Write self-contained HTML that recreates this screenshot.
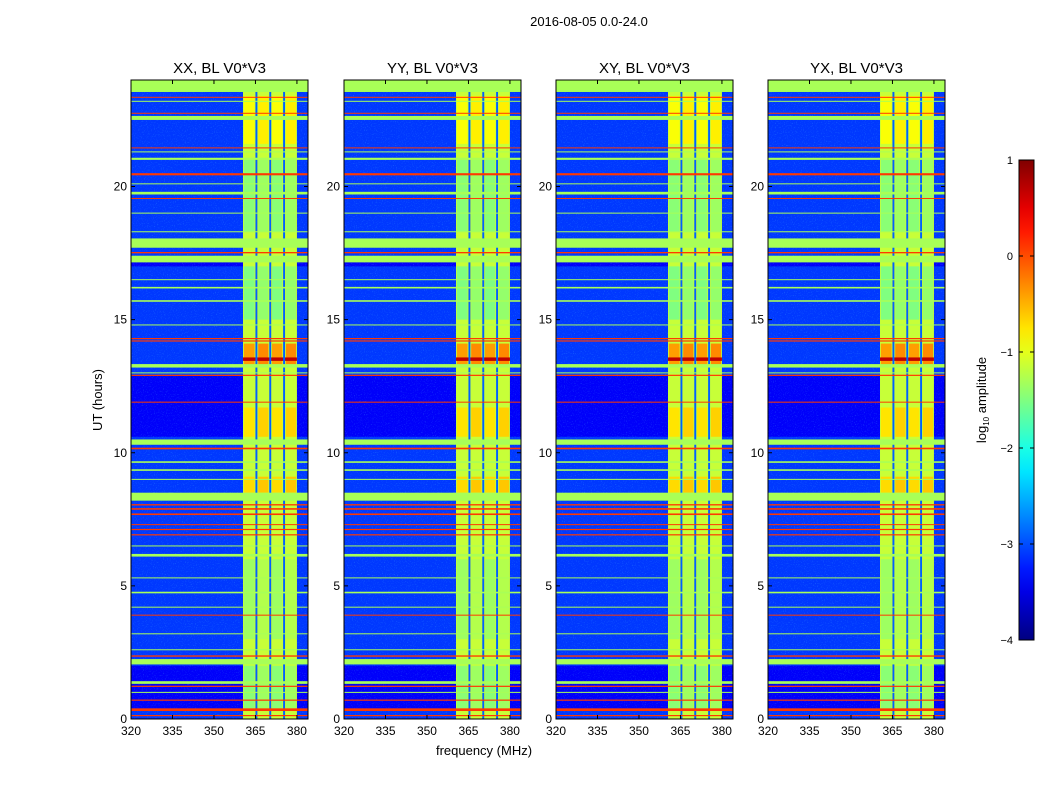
<!DOCTYPE html>
<html><head><meta charset="utf-8"><style>
body{margin:0;background:#fff;}
svg{display:block;font-family:"Liberation Sans",sans-serif;}
</style></head><body>
<svg id="fig" width="1050" height="800" viewBox="0 0 1050 800" xmlns="http://www.w3.org/2000/svg">
<defs>
<filter id="noise" x="0" y="0" width="1" height="1">
<feTurbulence type="fractalNoise" baseFrequency="0.9" numOctaves="1" seed="3" result="n"/>
<feColorMatrix in="n" type="matrix" values="0 0 0 0 0.1  0 0 0 0 0.7  0 0 0 0 1  0 0 0 2.2 -1.25"/>
<feComposite in2="SourceGraphic" operator="in"/>
</filter>
</defs>
<text x="589" y="26" font-size="13" text-anchor="middle">2016-08-05 0.0-24.0</text>
<text transform="translate(102,400) rotate(-90)" font-size="13" text-anchor="middle">UT (hours)</text>
<text x="484" y="755" font-size="13" text-anchor="middle">frequency (MHz)</text>
<g id="panels"></g>
<g id="cbar"></g>
</svg>
<script>
// ---- data (log10 amplitude values, hours, MHz) ----
const panelTitles = ["XX, BL V0*V3","YY, BL V0*V3","XY, BL V0*V3","YX, BL V0*V3"];
const xTicks = [320,335,350,365,380];
const yTicks = [0,5,10,15,20];
const cbarTicks = [1,0,-1,-2,-3,-4];
const backgroundLevel = -3.1;
const quietLevel = -3.4;
const quietSpans = [[10.6,12.9],[0.4,2.0],[17.0,17.2]];
const rfiBand = [360.5,380];
const rfiLevel = -1.15;
const bandGaps = [365.0,370.0,375.0];
const bandPatches = [[21.6,23.4,-0.9],[13.3,14.1,-0.4],[10.6,11.7,-0.75],[8.5,9.1,-0.7],[15.0,17.0,-1.5],[3.0,6.0,-1.35],[0.4,2.0,-1.45],[18.3,21.0,-1.45]];
const darkRows = [[13.45,13.58,0.7]];
const flagRows = [[23.55,24.0],[22.5,22.65],[21.0,21.08],[19.7,19.8],[17.7,18.05],[17.15,17.4],[16.17,16.23],[15.67,15.73],[13.2,13.33],[10.3,10.5],[9.62,9.68],[9.32,9.38],[8.2,8.5],[6.1,6.2],[4.72,4.78],[2.05,2.25],[1.32,1.42]];
const redRows = [[20.42,20.5],[17.49,17.54],[14.18,14.22],[14.27,14.31],[12.89,12.93],[10.13,10.19],[7.66,7.72],[7.86,7.92],[8.02,8.07],[7.1,7.14],[6.9,6.94],[2.34,2.39],[1.21,1.25],[0.69,0.73],[0.3,0.4],[0.11,0.15]];
const thinGreen = [23.2,21.3,20.1,19.0,18.3,16.5,14.8,13.0,9.0,6.5,5.3,4.2,3.2,2.6,1.0];
const thinRed = [23.35,22.75,21.45,19.55,11.9,7.3,3.9];

// ---- layout ----
const panelX = [131,344,556,768];
const PW = 177, PT = 80, PB = 719;
const X0 = 320, X1 = 384, Y0 = 0, Y1 = 24;
const NS = "http://www.w3.org/2000/svg";
function jet(v){
  let t = (v+4)/5; t = Math.max(0,Math.min(1,t));
  const f=(x)=>Math.max(0,Math.min(1,1.5-Math.abs(4*t-x)));
  return `rgb(${Math.round(f(3)*255)},${Math.round(f(2)*255)},${Math.round(f(1)*255)})`;
}
function mk(tag,attrs,parent){const e=document.createElementNS(NS,tag);for(const k in attrs)e.setAttribute(k,attrs[k]);parent.appendChild(e);return e;}
const root = document.getElementById('panels');
panelX.forEach((px,pi)=>{
  const sx = f=>px+(f-X0)/(X1-X0)*PW;
  const sy = h=>PB-(h-Y0)/(Y1-Y0)*(PB-PT);
  const g = mk('g',{},root);
  
  
  const bg = mk('rect',{x:px,y:PT,width:PW,height:PB-PT,fill:jet(backgroundLevel)},g);
  
  
  quietSpans.forEach(s=>{const r=mk('rect',{x:px,y:sy(s[1]),width:PW,height:sy(s[0])-sy(s[1]),fill:jet(quietLevel)},g);
    
    });
  const nz = mk('rect',{x:px,y:PT,width:PW,height:PB-PT,fill:'#000',filter:'url(#noise)',opacity:0.45},g);
  
  
  const bx0=sx(rfiBand[0]), bx1=sx(rfiBand[1]);
  const band = mk('rect',{x:bx0,y:PT,width:bx1-bx0,height:PB-PT,fill:jet(rfiLevel)},g);
  
  
  bandPatches.forEach(p=>{
    const segs=[[rfiBand[0],bandGaps[0]],[bandGaps[0]+0.7,bandGaps[1]],[bandGaps[1]+0.7,bandGaps[2]],[bandGaps[2]+0.7,rfiBand[1]]];
    segs.forEach((s,si)=>{const r=mk('rect',{x:sx(s[0])+0.8,y:sy(p[1]),width:Math.max(0,sx(s[1])-sx(s[0])-1.6),height:sy(p[0])-sy(p[1]),fill:jet(p[2]+(si%2?0.1:0))},g);
      
      });
  });
  darkRows.forEach(d=>{const r=mk('rect',{x:bx0,y:sy(d[1]),width:bx1-bx0,height:sy(d[0])-sy(d[1]),fill:jet(d[2])},g);
    
    });
  bandGaps.forEach(f=>{const r=mk('rect',{x:sx(f),y:PT,width:sx(f+0.7)-sx(f),height:PB-PT,fill:jet(-2.9)},g);
    
    });
  thinGreen.forEach(h=>{const r=mk('rect',{x:px,y:sy(h)-0.5,width:PW,height:1,fill:jet(-1.3)},g);
    
    });
  thinRed.forEach(h=>{const r=mk('rect',{x:px,y:sy(h)-0.5,width:PW,height:1,fill:jet(0.1)},g);
    
    });
  flagRows.forEach(f=>{const r=mk('rect',{x:px,y:sy(f[1]),width:PW,height:sy(f[0])-sy(f[1]),fill:jet(-1.3)},g);
    
    });
  redRows.forEach(f=>{const r=mk('rect',{x:px,y:sy(f[1]),width:PW,height:Math.max(1.2,sy(f[0])-sy(f[1])),fill:jet(0.1)},g);
    
    });
  const fr = mk('rect',{x:px,y:PT,width:PW,height:PB-PT,fill:'none',stroke:'#000','stroke-width':1},g);
  
  
  const t = mk('text',{x:px+PW/2,y:PT-7,'font-size':15,'text-anchor':'middle'},g);
  t.textContent = panelTitles[pi];
  
  
  xTicks.forEach(v=>{const x=sx(v);
    mk('line',{x1:x,x2:x,y1:PB,y2:PB-4,stroke:'#000'},g);
    mk('line',{x1:x,x2:x,y1:PT,y2:PT+4,stroke:'#000'},g);
    const l=mk('text',{x:x,y:PB+16,'font-size':12,'text-anchor':'middle'},g);l.textContent=v;
    
    });
  yTicks.forEach(v=>{const y=sy(v);
    mk('line',{x1:px,x2:px+4,y1:y,y2:y,stroke:'#000'},g);
    mk('line',{x1:px+PW,x2:px+PW-4,y1:y,y2:y,stroke:'#000'},g);
    const l=mk('text',{x:px-4,y:y+4,'font-size':12,'text-anchor':'end'},g);l.textContent=v;
    
    });
});
// colorbar
const cb = document.getElementById('cbar');
const CX=1019, CW=15, CT=160, CB=640;
const cy = v=>CB-(v+4)/5*(CB-CT);
const defs = mk('defs',{},cb);
const grad = mk('linearGradient',{id:'jetg',x1:0,y1:1,x2:0,y2:0},defs);
for(let i=0;i<=20;i++){const v=-4+i*0.25;mk('stop',{offset:(i/20),'stop-color':jet(v)},grad);}
mk('rect',{x:CX,y:CT,width:CW,height:CB-CT,fill:'url(#jetg)',stroke:'#000'},cb);
cbarTicks.forEach(v=>{const y=cy(v);
  mk('line',{x1:CX,x2:CX+4,y1:y,y2:y,stroke:'#000'},cb);
  mk('line',{x1:CX+CW,x2:CX+CW-4,y1:y,y2:y,stroke:'#000'},cb);
  const l=mk('text',{x:1013,y:y+4,'font-size':11,'text-anchor':'end'},cb);
  l.textContent = v<0 ? '\u2212'+Math.abs(v) : String(v);
  
  });
const cl = mk('text',{transform:'translate(986,400) rotate(-90)','font-size':13,'text-anchor':'middle'},cb);
cl.innerHTML = 'log<tspan font-size="8" dy="3">10</tspan><tspan dy="-3"> amplitude</tspan>';


</script>
</body></html>
